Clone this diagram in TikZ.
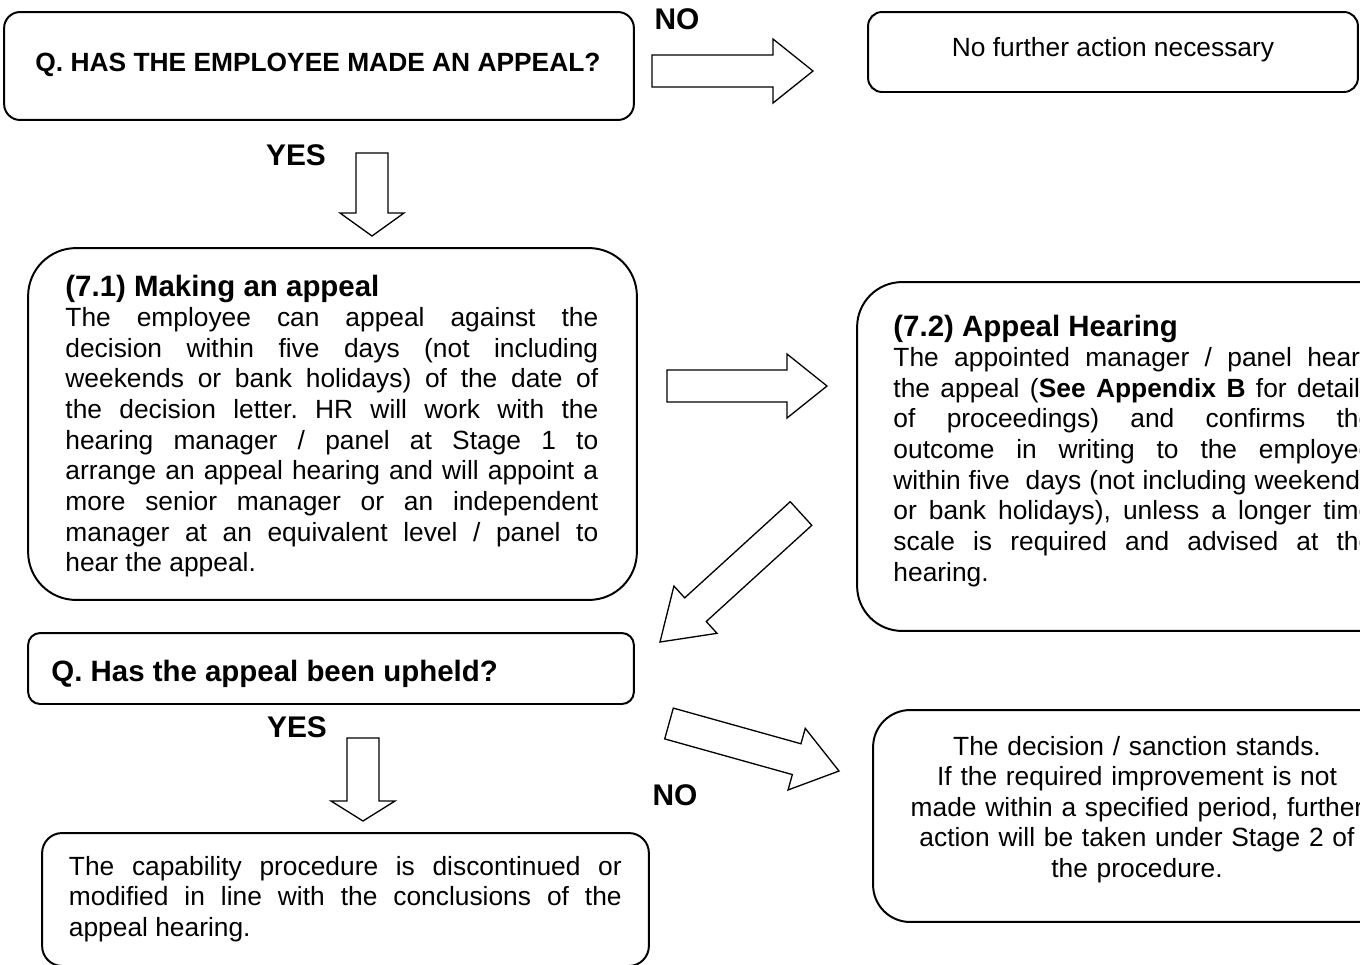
\documentclass[tikz,border=0pt]{standalone}
\usepackage{fontspec}
\setmainfont{Liberation Sans}
\usepackage{tikz}
\usetikzlibrary{calc}

\tolerance=10000
\hbadness=10000
\hyphenpenalty=10000
\frenchspacing

\newcommand\basefont{\fontsize{12}{13.96}\selectfont}
\newcommand\headfont{\fontsize{13.4}{13.96}\selectfont\bfseries}
\newcommand\shaftw{0.256cm}
\newcommand\headw{0.512cm}
% hollow block arrow: tail, tip, head length
\newcommand\blockarrow[3]{%
  \draw[blockline] ($(#1)!\shaftw!90:(#2)$)
    -- ($(#2)!#3!(#1)!\shaftw!-90:(#1)$)
    -- ($(#2)!#3!(#1)!\headw!-90:(#1)$)
    -- (#2)
    -- ($(#2)!#3!(#1)!\headw!90:(#1)$)
    -- ($(#2)!#3!(#1)!\shaftw!90:(#1)$)
    -- ($(#1)!\shaftw!-90:(#2)$) -- cycle;}

\tikzset{
  box/.style={draw, line width=0.9pt, inner sep=0pt},
  blockline/.style={draw, line width=0.6pt, line join=miter},
  answer/.style={font=\fontsize{13.6}{15}\selectfont\bfseries, inner sep=0pt, anchor=base},
  boxtext/.style={font=\basefont, inner sep=0pt, anchor=base west},
}

\begin{document}
\begin{tikzpicture}[x=0.016cm, y=-0.016cm]
  \useasboundingbox (0,0) rectangle (1360,964);
  \clip (0,0) rectangle (1360,964);

  % boxes
  \node[box, minimum width=10.08cm, minimum height=1.728cm, rounded corners=0.256cm] (qappeal) at (319,66) {};
  \node[box, minimum width=7.84cm, minimum height=1.28cm, rounded corners=0.224cm] (nofurther) at (1113,52) {};
  \node[box, minimum width=9.744cm, minimum height=5.632cm, rounded corners=0.768cm] (making) at (332.5,424) {};
  \node[box, minimum width=8.832cm, minimum height=5.584cm, rounded corners=0.72cm] (hearing) at (1133,456.5) {};
  \node[box, minimum width=9.696cm, minimum height=1.136cm, rounded corners=0.192cm] (qupheld) at (331,668.5) {};
  \node[box, minimum width=9.712cm, minimum height=2.128cm, rounded corners=0.32cm] (capability) at (345.5,899.5) {};
  \node[box, minimum width=8.448cm, minimum height=3.392cm, rounded corners=0.592cm] (stands) at (1137,816) {};

  % texts
  \node[boxtext, font=\basefont\bfseries] (qappeal-text) at (35,71) {Q. HAS THE EMPLOYEE MADE AN APPEAL?};
  \node[boxtext, anchor=base] (nofurther-text) at (1113,56) {No further action necessary};
  \node[boxtext, text width=8.528cm, align=justify] (making-text) at (65,296) {{\headfont (7.1) Making an appeal}\\
    The employee can appeal against the\linebreak
    decision within five days (not including\linebreak
    weekends or bank holidays) of the date of\linebreak
    the decision letter. HR will work with the\linebreak
    hearing manager / panel at Stage 1 to\linebreak
    arrange an appeal hearing and will appoint a\linebreak
    more senior manager or an independent\linebreak
    manager at an equivalent level / panel to\linebreak
    hear the appeal.};
  \node[boxtext, text width=7.68cm, align=justify] (hearing-text) at (893,336) {{\headfont (7.2) Appeal Hearing}\\
    The appointed manager / panel hears\linebreak
    the appeal (\textbf{See Appendix B} for details\linebreak
    of proceedings) and confirms the\linebreak
    outcome in writing to the employee\linebreak
    within five\ \ days (not including weekends\linebreak
    or bank holidays), unless a longer time\linebreak
    scale is required and advised at the\linebreak
    hearing.};
  \node[boxtext, font=\headfont] (qupheld-text) at (51,681) {Q. Has the appeal been upheld?};
  \node[boxtext, text width=8.848cm, align=justify] (capability-text) at (68.5,875) {The capability procedure is discontinued or\linebreak
    modified in line with the conclusions of the\linebreak
    appeal hearing.};
  \node[boxtext, anchor=base, text width=8.5cm, align=center] (stands-text) at (1137,755) {The decision / sanction stands.\\
    If the required improvement is not\\
    made within a specified period, further\\
    action will be taken under Stage 2 of\\
    the procedure.};

  % answers
  \node[answer] (no1) at (677,29) {NO};
  \node[answer] (yes1) at (296,165) {YES};
  \node[answer] (yes2) at (297,737) {YES};
  \node[answer] (no2) at (675,805) {NO};

  % block arrows
  \coordinate (no1-tail) at (652,71);      \coordinate (no1-tip) at (813,71);
  \coordinate (yes1-tail) at (372,153);    \coordinate (yes1-tip) at (372,236);
  \coordinate (hear-tail) at (667,386);    \coordinate (hear-tip) at (827,386);
  \coordinate (back-tail) at (801,513.5);  \coordinate (back-tip) at (660,642);
  \coordinate (yes2-tail) at (363,738);    \coordinate (yes2-tip) at (363,821);
  \coordinate (no2-tail) at (669,723.5);   \coordinate (no2-tip) at (839,771);
  \blockarrow{no1-tail}{no1-tip}{0.64cm}
  \blockarrow{yes1-tail}{yes1-tip}{0.368cm}
  \blockarrow{hear-tail}{hear-tip}{0.64cm}
  \blockarrow{back-tail}{back-tip}{0.768cm}
  \blockarrow{yes2-tail}{yes2-tip}{0.32cm}
  \blockarrow{no2-tail}{no2-tip}{0.704cm}
\end{tikzpicture}
\end{document}
